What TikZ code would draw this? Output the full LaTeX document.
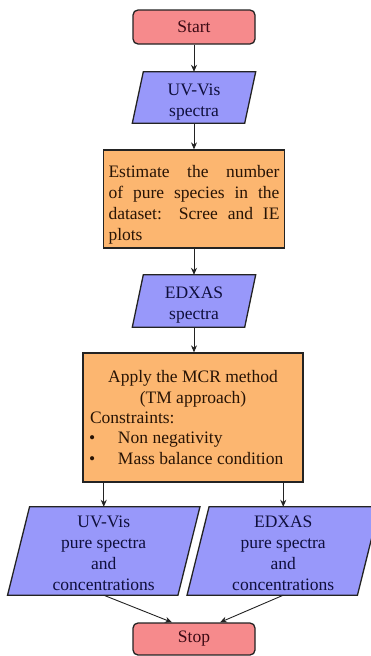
\documentclass[tikz,border=0pt]{standalone}
\usepackage{fontspec}
\setmainfont{Liberation Serif}
\usetikzlibrary{arrows.meta}
\pgfdeclarelayer{background}
\pgfsetlayers{background,main}

\definecolor{termfill}{RGB}{246,138,140}
\definecolor{iofill}{RGB}{152,152,250}
\definecolor{procfill}{RGB}{252,182,112}
\definecolor{edgecol}{RGB}{35,35,35}
\definecolor{termtext}{RGB}{60,10,20}
\definecolor{iotext}{RGB}{15,15,60}
\definecolor{proctext}{RGB}{40,20,5}

\tikzset{
  base/.style={font=\rmfamily\fontsize{17.5}{21}\selectfont, inner sep=0pt, align=center},
  term/.style={base, draw=edgecol, line width=1.3pt, fill=termfill, text=termtext,
               rounded corners=5pt, minimum width=122pt},
  proc/.style={base, draw=edgecol, line width=1.3pt, fill=procfill, text=proctext},
  io/.style={base, text=iotext},
  slant/.style={draw=edgecol, line width=1.3pt, fill=iofill, line join=miter},
  flow/.style={-{Stealth[length=7pt,width=6pt]}, line width=0.9pt, draw=edgecol}
}

% parallelogram drawn behind an io node: node name, half of the horizontal skew
\newcommand\slantbox[2]{%
  \begin{pgfonlayer}{background}
    \path[slant] ([xshift=#2]#1.north west) -- ([xshift=#2]#1.north east)
      -- ([xshift=-#2]#1.south east) -- ([xshift=-#2]#1.south west) -- cycle;
  \end{pgfonlayer}}
% invisible rule that lowers a centred text block
\newcommand\lowerby[1]{\rule{0pt}{#1}}

\begin{document}
\begin{tikzpicture}[x=1pt,y=-1pt]
\useasboundingbox (0,0) rectangle (371,656);

\node[term, minimum height=34pt] (start) at (194,27) {Start};

\node[io, minimum width=112pt, minimum height=51pt] (uv) at (194,97.5)
  {\lowerby{20pt}UV-Vis\\spectra};
\slantbox{uv}{5.5pt}

\node[proc, minimum width=181pt, minimum height=98pt, align=left] (est) at (194,199)
  {\lowerby{24pt}\makebox[171pt][s]{Estimate the number}\\
   \makebox[171pt][s]{of pure species in the}\\
   \makebox[171pt][s]{dataset: Scree and IE}\\
   plots};

\node[io, minimum width=112pt, minimum height=52pt] (edx) at (194,301)
  {\lowerby{20pt}EDXAS\\spectra};
\slantbox{edx}{5.5pt}

\node[proc, minimum width=220pt, minimum height=129pt, align=left,
      font=\rmfamily\fontsize{17.5}{20.3}\selectfont] (mcr) at (193,417.5)
  {\makebox[206pt][c]{Apply the MCR method}\\
   \makebox[206pt][c]{(TM approach)}\\
   Constraints:\\
   \makebox[28pt][l]{\hspace{-1pt}\textbullet}Non negativity\\
   \makebox[28pt][l]{\hspace{-1pt}\textbullet}Mass balance condition};

\node[io, minimum width=170pt, minimum height=88pt] (uvout) at (103.75,551)
  {\lowerby{17pt}UV-Vis\\pure spectra\\and\\concentrations};
\slantbox{uvout}{11pt}

\node[io, minimum width=170pt, minimum height=88pt] (edxout) at (283.25,551)
  {\lowerby{17pt}EDXAS\\pure spectra\\and\\concentrations};
\slantbox{edxout}{11pt}

\node[term, minimum height=32pt] (stop) at (194,639) {Stop};

% connectors
\draw[flow] (start.south) -- (uv.north);
\draw[flow] (uv.south) -- (uv.south |- est.north);
\draw[flow] (edx.south |- est.south) -- (edx.north);
\draw[flow] (edx.south) -- (edx.south |- mcr.north);
\draw[flow] (mcr.south -| uvout.north) -- (uvout.north);
\draw[flow] (mcr.south -| edxout.north) -- (edxout.north);
\draw[flow] (uvout.south) -- ([xshift=-22pt]stop.north);
\draw[flow] (edxout.south) -- ([xshift=26pt]stop.north);
\end{tikzpicture}
\end{document}
